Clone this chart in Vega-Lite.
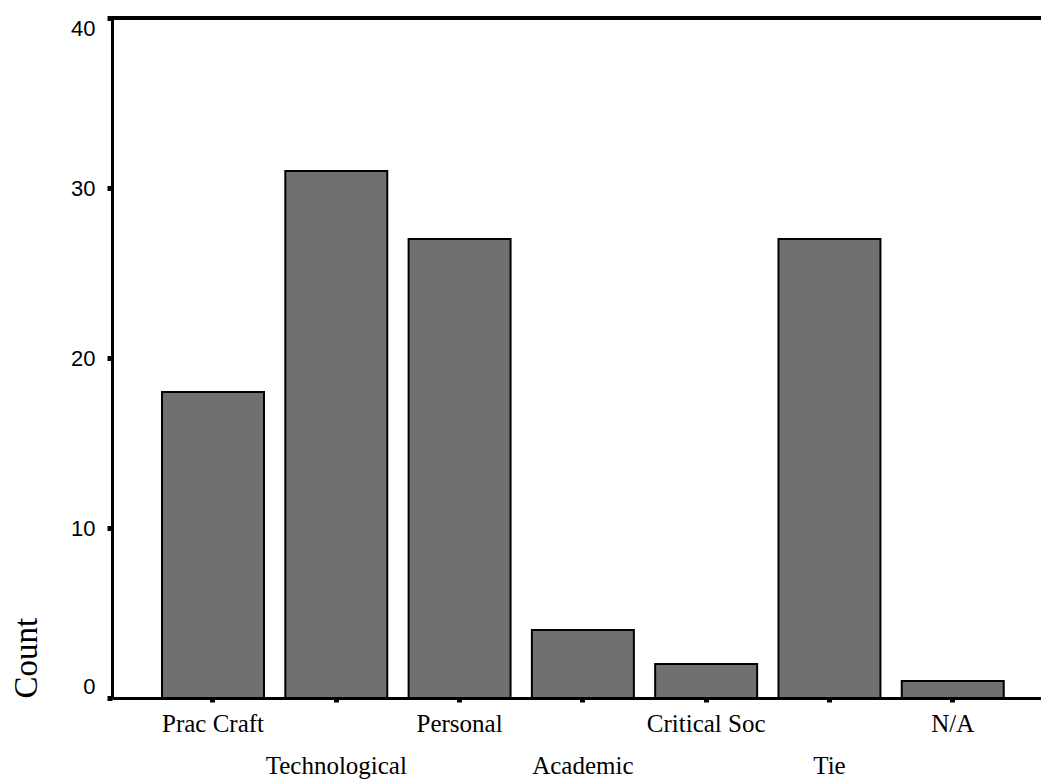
{
  "$schema": "https://vega.github.io/schema/vega-lite/v6.json",
  "width": 929,
  "height": 680,
  "autosize": {"type": "none"},
  "padding": {"left": 112, "top": 18, "right": 0, "bottom": 85},
  "background": "white",
  "config": {"view": {"stroke": null}},
  "data": {"values": [
    {"category": "Prac Craft", "count": 18},
    {"category": "Technological", "count": 31},
    {"category": "Personal", "count": 27},
    {"category": "Academic", "count": 4},
    {"category": "Critical Soc", "count": 2},
    {"category": "Tie", "count": 27},
    {"category": "N/A", "count": 1}
  ]},
  "layer": [
    {
      "mark": {"type": "bar", "fill": "#707070", "stroke": "black", "strokeWidth": 2},
      "encoding": {
        "x": {
          "field": "category", "type": "nominal", "sort": null,
          "scale": {"paddingInner": 0.173, "paddingOuter": 0.354, "align": 0.573},
          "axis": {
            "title": null, "labelAngle": 0, "labelFont": "Liberation Serif", "labelFontSize": 25,
            "labelColor": "black", "labelBaseline": "top",
            "labelPadding": {"condition": {"test": "indexof(['Technological','Academic','Tie'], datum.value) >= 0", "value": 51}, "value": 9},
            "tickSize": 4, "tickWidth": 5, "tickColor": "black",
            "domainColor": "black", "domainWidth": 3,
            "labelOverlap": false
          }
        },
        "y": {
          "field": "count", "type": "quantitative",
          "scale": {"domain": [0, 40], "nice": false},
          "axis": {
            "title": "Count", "titleFont": "Liberation Serif", "titleFontSize": 33, "titleFontWeight": "normal",
            "titleColor": "black", "titleAngle": -90, "titleAlign": "left", "titleBaseline": "alphabetic",
            "titleX": -76, "titleY": 680,
            "values": [0, 10, 20, 30, 40], "grid": false,
            "labelFont": "Liberation Sans", "labelFontSize": 22, "labelColor": "black",
            "labelPadding": 12, "labelFlush": true,
            "tickSize": 5, "tickWidth": 5, "tickColor": "black",
            "domainColor": "black", "domainWidth": 3
          }
        }
      }
    },
    {
      "mark": {"type": "rule", "color": "black", "strokeWidth": 3},
      "encoding": {"y": {"datum": 40}}
    }
  ]
}
